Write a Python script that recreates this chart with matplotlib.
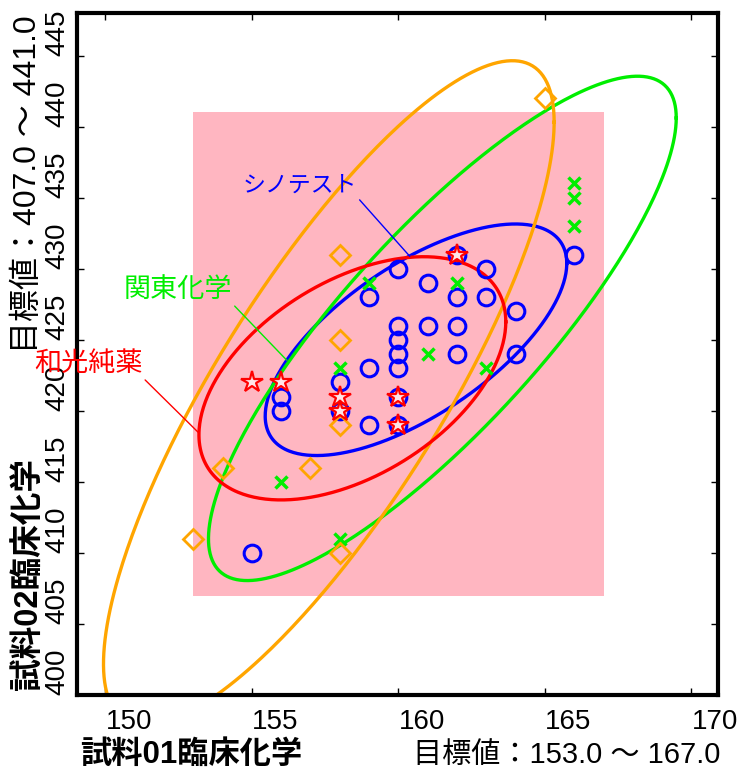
import matplotlib
matplotlib.use("Agg")
import matplotlib.pyplot as plt
import numpy as np

plt.rcParams['font.family'] = ['Liberation Sans', 'Noto Sans CJK JP']

# シノテスト (blue circles); the last point is left out of the ellipse
sino_x = [156, 156, 158, 158, 159, 159, 159, 160, 160, 160, 160, 160, 160, 160,
          161, 161, 162, 162, 162, 162, 163, 163, 164, 164, 166]
sino_y = [421, 420, 422, 420, 428, 423, 419, 430, 426, 425, 424, 423, 421, 419,
          429, 426, 431, 428, 426, 424, 430, 428, 427, 424, 431]
sino_out_x = [155]
sino_out_y = [410]

# 関東化学 (green x)
kanto_x = [156, 158, 158, 159, 161, 162, 163, 166, 166, 166]
kanto_y = [415, 423, 411, 429, 424, 429, 423, 436, 435, 433]

# 和光純薬 (red stars)
wako_x = [155, 156, 158, 158, 160, 160, 162]
wako_y = [422, 422, 421, 420, 421, 419, 431]

# 4th lab (orange diamonds, no label)
other_x = [153, 154, 157, 158, 158, 158, 158, 165]
other_y = [411, 416, 416, 431, 425, 419, 410, 442]

target_x = (153.0, 167.0)
target_y = (407.0, 441.0)

xticks = [150, 155, 160, 165, 170]
yticks = [400, 405, 410, 415, 420, 425, 430, 435, 440, 445]


def ellipse(xs, ys, p=0.90):
    # 90% ellipse from mean and sample covariance
    pts = np.array([xs, ys], dtype=float)
    m = pts.mean(axis=1)
    cov = np.cov(pts)
    k = np.sqrt(-2 * np.log(1 - p))
    L = np.linalg.cholesky(cov)
    t = np.linspace(0, 2 * np.pi, 400)
    e = m[:, None] + k * L @ np.vstack([np.cos(t), np.sin(t)])
    return e[0], e[1]


fig = plt.figure(figsize=(7.4, 7.71), dpi=100)
ax = fig.add_axes([0.104, 0.0986, 0.866, 0.8846])

ax.fill_between(target_x, target_y[0], target_y[1], color='#ffb6c1', lw=0, zorder=0)

lw = 2.4
ex, ey = ellipse(sino_x, sino_y)
ax.plot(ex, ey, color='blue', lw=lw, zorder=2)
ex, ey = ellipse(kanto_x, kanto_y)
ax.plot(ex, ey, color='#00ee00', lw=lw, zorder=2)
ex, ey = ellipse(other_x, other_y)
ax.plot(ex, ey, color='orange', lw=lw, zorder=2)
ex, ey = ellipse(wako_x, wako_y)
ax.plot(ex, ey, color='red', lw=lw, zorder=2)

ax.plot(sino_x + sino_out_x, sino_y + sino_out_y, 'o', ms=12, mfc='none',
        mec='blue', mew=2.2, zorder=3)
ax.plot(kanto_x, kanto_y, 'x', ms=8, mec='#00ee00', mew=2.5, zorder=3)
ax.plot(other_x, other_y, 'D', ms=10, mfc='none', mec='orange', mew=2.0, zorder=3)
ax.plot(wako_x, wako_y, '*', ms=16, mfc='#ffe4e8', mec='red', mew=1.6, zorder=4)

ax.annotate('シノテスト', xy=(160.39, 430.87), xytext=(156.64, 435.85),
            color='blue', fontsize=16.5, ha='center', va='center',
            arrowprops=dict(arrowstyle='-', color='blue', lw=1, shrinkA=0, shrinkB=0,
                            relpos=(1, 0)), zorder=5)
ax.annotate('関東化学', xy=(156.19, 423.56), xytext=(152.47, 428.48),
            color='#00ee00', fontsize=19.5, ha='center', va='center',
            arrowprops=dict(arrowstyle='-', color='#00ee00', lw=1, shrinkA=0, shrinkB=0,
                            relpos=(1, 0)), zorder=5)
ax.annotate('和光純薬', xy=(153.16, 418.5), xytext=(149.41, 423.28),
            color='red', fontsize=19.5, ha='center', va='center', annotation_clip=False,
            arrowprops=dict(arrowstyle='-', color='red', lw=1, shrinkA=0, shrinkB=0,
                            relpos=(1, 0)), zorder=5)

ax.set_xlim(149.03, 170.9)
ax.set_ylim(400, 448)
ax.set_xticks(xticks)
ax.set_yticks(yticks)
ax.tick_params(direction='in', length=5, width=1, top=True, right=True,
               labelsize=20, pad=10)
ax.tick_params(axis='y', labelrotation=90, pad=5)
plt.setp(ax.get_xticklabels(), ha='left')
plt.setp(ax.get_yticklabels(), va='bottom')
for s in ax.spines.values():
    s.set_linewidth(3.0)

fig.text(0.108, 0.021, '試料01臨床化学', fontsize=22.5, fontweight='bold',
         ha='left', va='center')
fig.text(0.973, 0.021, '目標値：153.0 ～ 167.0', fontsize=21, ha='right', va='center')
fig.text(0.038, 0.105, '試料02臨床化学', fontsize=23.5, fontweight='bold',
         rotation=90, ha='center', va='bottom')
fig.text(0.038, 0.98, '目標値：407.0 ～ 441.0', fontsize=23,
         rotation=90, ha='center', va='top')

fig.savefig('out.png', dpi=100)
